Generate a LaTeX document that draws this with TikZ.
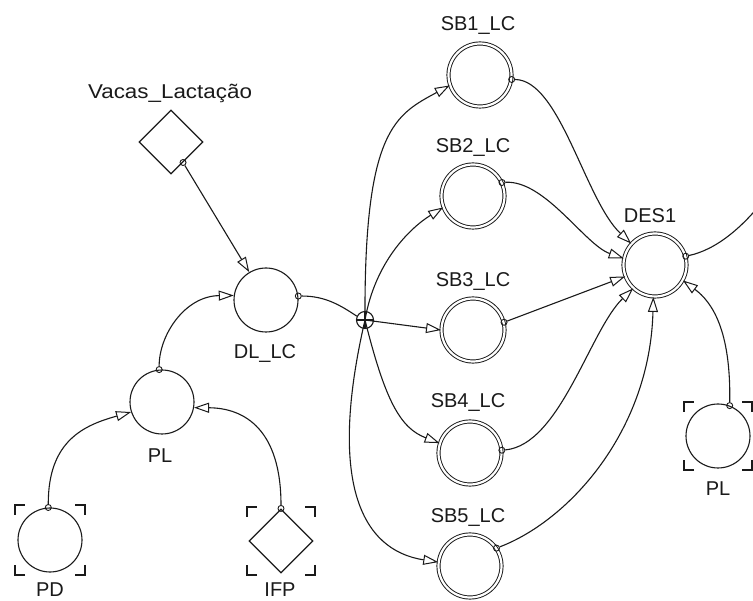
\documentclass[tikz,border=0pt]{standalone}
\usepackage{fontspec}
\setmainfont{Liberation Sans}
\usetikzlibrary{arrows.meta,shapes.geometric,calc}
\definecolor{ink}{HTML}{1A1A1A}

% corner marks around a node: #1 node name, #2 half size
\newcommand\bracketmarks[2]{%
  \draw[frame] ([shift={(-#2,-#2+10)}]#1.center) -- ++(0,-10) -- ++(10,0);
  \draw[frame] ([shift={(#2-10,-#2)}]#1.center) -- ++(10,0) -- ++(0,10);
  \draw[frame] ([shift={(#2,#2-10)}]#1.center) -- ++(0,10) -- ++(-10,0);
  \draw[frame] ([shift={(-#2+10,#2)}]#1.center) -- ++(-10,0) -- ++(0,-10);
}

\begin{document}
\begin{tikzpicture}[x=1pt,y=-1pt,
  conn/.style={draw=ink,line width=1.1pt},
  link/.style={conn,-{Triangle[open,length=15pt,width=10pt,line width=1pt]}},
  frame/.style={draw=ink,line width=1.5pt},
  aux/.style={circle,draw=ink,line width=1.1pt,minimum size=64pt,inner sep=0pt},
  stock/.style={circle,draw=ink,line width=0.95pt,double=white,double distance=2.2pt,minimum size=63pt,inner sep=0pt},
  const/.style={diamond,draw=ink,line width=1.1pt,minimum size=64pt,inner sep=0pt},
  junction/.style={circle,draw=ink,line width=1.1pt,minimum size=17pt,inner sep=0pt},
  port/.style={circle,draw=ink,line width=0.9pt,minimum size=6pt,inner sep=0pt},
  lab/.style={anchor=base,inner sep=0pt,text=ink,font=\fontsize{20}{24}\selectfont},
]
\useasboundingbox (0,0) rectangle (753,601);
\fill[white] (0,0) rectangle (753,601);
\clip (0,0) rectangle (753,601);

% model elements
\node[const] (vacas) at (171,142) {};
\node[aux]   (dl)    at (266,300) {};
\node[aux]   (pl)    at (162,402) {};
\node[aux]   (pd)    at (50,540) {};
\node[const] (ifp)   at (281,541) {};
\node[junction] (jn) at (365,320) {};
\node[stock] (sb1)   at (480,75) {};
\node[stock] (sb2)   at (473,196) {};
\node[stock] (sb3)   at (473,330) {};
\node[stock] (sb4)   at (470,453) {};
\node[stock] (sb5)   at (470,566) {};
\node[stock] (des)   at (655,265) {};
\node[aux]   (plr)   at (718,436) {};

% ghost marks
\bracketmarks{pd}{35}
\bracketmarks{ifp}{34}
\bracketmarks{plr}{34}

% junction cross
\draw[conn] (jn.west) -- (jn.east) (jn.north) -- (jn.south);

% output ports
\node[port] (pvacas) at ($(vacas.south)!0.37!(vacas.east)$) {};
\node[port] (ppl)  at (pl.95) {};
\node[port] (ppd)  at (pd.93) {};
\node[port] (pifp) at (ifp.north) {};
\node[port] (pdl)  at (dl.7) {};
\node[port] (psb1) at (sb1.-8) {};
\node[port] (psb2) at (sb2.25) {};
\node[port] (psb3) at (sb3.14) {};
\node[port] (psb4) at (sb4.5) {};
\node[port] (psb5) at (sb5.34) {};
\node[port] (pplr) at (plr.69) {};
\node[port] (pdes) at (des.16) {};
\coordinate (dout) at (775,185);

% connectors
\draw[link] (pvacas) -- (dl.121);
\draw[link] (ppl) .. controls (159,335) and (185,296) .. (dl.172);
\draw[link] (ppd) .. controls (48,440) and (85,425) .. (pl.198);
\draw[link] (pifp) .. controls (281,430) and (245,408) .. (pl.-10);
\draw[conn] (pdl) .. controls (325,296) and (340,305) .. (jn.155);

\draw[link] (jn.center) .. controls (364,130) and (395,115) .. (sb1.199);
\draw[link] (jn.center) .. controls (375,262) and (410,228) .. (sb2.201);
\draw[link] (jn.center) -- (sb3.180);
\draw[link] (jn.center) .. controls (385,400) and (400,428) .. (sb4.162);
\draw[link] (jn.center) .. controls (328,480) and (360,550) .. (sb5.173);

\draw[link] (psb1) .. controls (560,80) and (585,200) .. (des.138);
\draw[link] (psb2) .. controls (545,180) and (585,245) .. (des.168);
\draw[link] (psb3) -- (des.201.5);
\draw[link] (psb4) .. controls (560,445) and (590,330) .. (des.227);
\draw[link] (psb5) .. controls (570,520) and (650,430) .. (des.267);
\draw[link] (pplr) .. controls (731,330) and (712,302) .. (des.-29);
\draw[conn] (pdes) .. controls (715,250) and (745,228) .. (dout);

% labels
\node[lab] (lvacas) at (170,99) {\scalebox{1.12}[1]{Vacas\_Lactação}};
\node[lab] (lsb1) at (478,31) {SB1\_LC};
\node[lab] (lsb2) at (473,153) {SB2\_LC};
\node[lab] (lsb3) at (473,287) {SB3\_LC};
\node[lab] (lsb4) at (468,408) {SB4\_LC};
\node[lab] (lsb5) at (468,523) {SB5\_LC};
\node[lab] (ldes) at (650,223) {DES1};
\node[lab] (ldl)  at (265,359) {DL\_LC};
\node[lab] (lpl)  at (160,463) {PL};
\node[lab] (lplr) at (718,496) {PL};
\node[lab] (lpd)  at (50,597) {PD};
\node[lab] (lifp) at (280,597) {IFP};
\end{tikzpicture}
\end{document}
